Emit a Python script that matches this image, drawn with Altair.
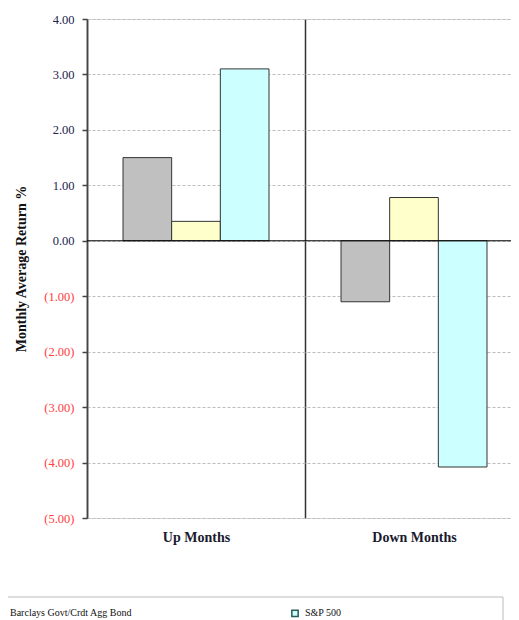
import altair as alt
import pandas as pd

categories = ["Up Months", "Down Months"]
series = ["Barclays Govt/Crdt Agg Bond", "HFRI Fund of Funds", "S&P 500"]
up_values = [1.50, 0.35, 3.10]
down_values = [-1.10, 0.78, -4.08]
colors = ["#c0c0c0", "#ffffcc", "#ccffff"]
y_ticks = [4, 3, 2, 1, 0, -1, -2, -3, -4, -5]
legend_shown = [series[0], series[2]]

rows = []
for s, v in zip(series, up_values):
    rows.append({"category": categories[0], "series": s, "value": v})
for s, v in zip(series, down_values):
    rows.append({"category": categories[1], "series": s, "value": v})
df = pd.DataFrame(rows)

SERIF = "Liberation Serif"

label_expr = ("datum.value < 0 ? '(' + format(-datum.value, '.2f') + ')' : format(datum.value, '.2f')")

bars = alt.Chart(df).mark_bar(stroke="#333333", strokeWidth=1).encode(
    x=alt.X("category:N", sort=categories,
            scale=alt.Scale(paddingInner=0, paddingOuter=0, range=[0, 436]),
            axis=alt.Axis(title=None, grid=True, gridColor="#333333", gridWidth=1.5,
                          tickBand="extent", domain=False, ticks=False, labelAngle=0,
                          labelFont=SERIF, labelFontSize=14, labelFontWeight="bold",
                          labelColor="#1a1a2e", labelPadding=12)),
    xOffset=alt.XOffset("series:N", sort=series,
                        scale=alt.Scale(paddingInner=0, paddingOuter=0.74)),
    y=alt.Y("value:Q", scale=alt.Scale(domain=[-5, 4], nice=False, zero=False),
            axis=alt.Axis(values=y_ticks, labelExpr=label_expr,
                          labelColor={"condition": {"test": "datum.value < 0", "value": "#ff4040"},
                                      "value": "#22224d"},
                          grid=True, gridDash=[3, 2], gridColor="#bdbdbd", gridWidth=1,
                          domainColor="#444444", domainWidth=1.5,
                          tickColor="#444444", tickSize=5, tickWidth=1.5,
                          labelFont=SERIF, labelFontSize=12.5, labelPadding=8,
                          title="Monthly Average Return %", titleFont=SERIF,
                          titleFontSize=14, titleFontWeight="bold", titleColor="#111111",
                          titlePadding=15)),
    color=alt.Color("series:N", scale=alt.Scale(domain=series, range=colors),
                    legend=alt.Legend(orient="none", legendX=-92, legendY=589,
                                      direction="horizontal", columns=2, columnPadding=156,
                                      values=legend_shown, title=None,
                                      symbolType="square", symbolSize=40,
                                      symbolStrokeColor="#2a5a5a", symbolStrokeWidth=1.5,
                                      labelFont=SERIF, labelFontSize=10, labelColor="#111111",
                                      labelOffset=5, labelLimit=0, padding=0)),
)

zero_rule = alt.Chart(pd.DataFrame({"v": [0]})).mark_rule(color="#000000", strokeWidth=1).encode(
    y="v:Q", x=alt.value(0), x2=alt.value(436)
)

legend_box = alt.Chart(pd.DataFrame({"d": [0]})).mark_rect(
    fill="white", stroke="#bbbbbb", strokeWidth=1
).encode(x=alt.value(-100), x2=alt.value(416), y=alt.value(578), y2=alt.value(650))

chart = alt.layer(legend_box, bars, zero_rule).properties(
    width=424, height=499,
    autosize=alt.AutoSizeParams(type="none"),
    padding={"left": 79, "top": 11, "right": 0, "bottom": 102},
).configure_view(stroke=None).configure(background="white")

chart.save("out.html", embed_options={"renderer": "svg", "actions": False})
